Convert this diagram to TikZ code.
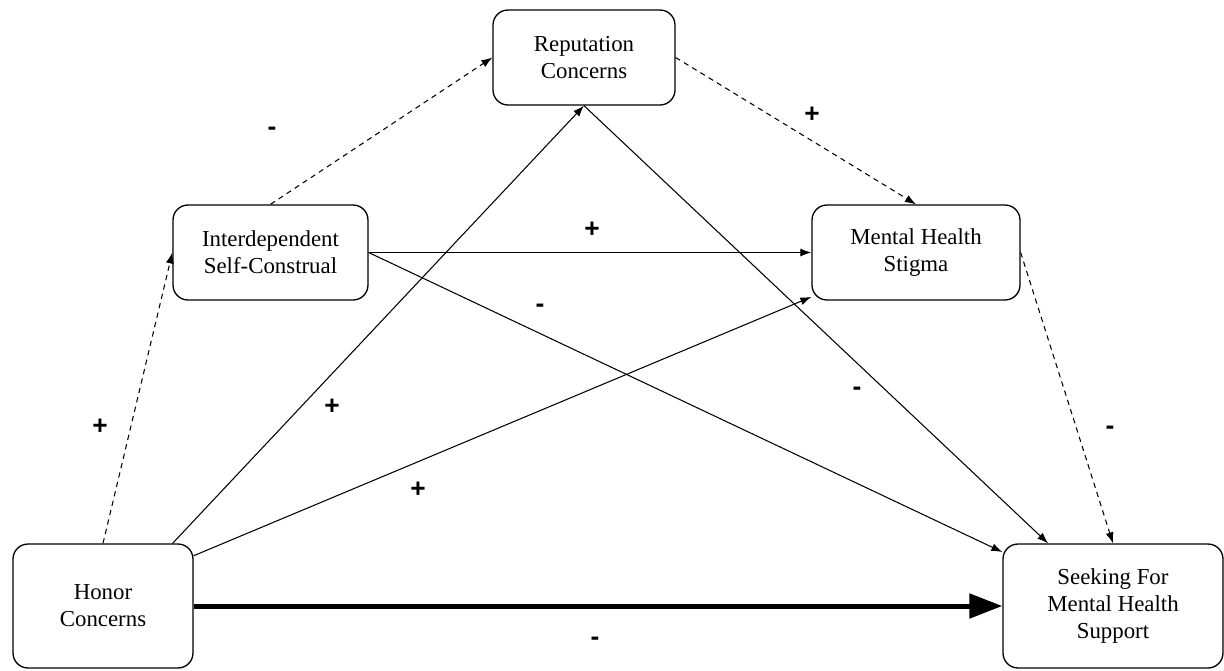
\documentclass[tikz,border=0pt]{standalone}
\usepackage{fontspec}
\setmainfont{Liberation Serif}
\newfontfamily\signfont{Liberation Sans}
\usepackage{tikz}
\usetikzlibrary{arrows.meta}
\newcommand{\pxUnit}{0.02cm}
\usepackage{xcolor}

\begin{document}
\begin{tikzpicture}[x=\pxUnit,y=-\pxUnit,
  box/.style={draw,rounded corners=0.3cm,line width=0.75pt,align=center,
    font=\fontsize{13}{15.5}\selectfont,inner sep=0pt},
  path/.style={line width=0.6pt,-{Latex[length=2.2mm,width=1.6mm]}},
  dpath/.style={path,dash pattern=on 3pt off 2.5pt},
  sign/.style={font=\signfont\bfseries\fontsize{15}{15}\selectfont}]
\useasboundingbox (0,0) rectangle (1224,670);
\node[box,minimum width=3.64cm,minimum height=1.9cm] (rep) at (584,57.5) {Reputation\\Concerns};
\node[box,minimum width=3.9cm,minimum height=1.9cm] (inter) at (270.5,252.5) {Interdependent\\Self-Construal};
\node[box,minimum width=4.16cm,minimum height=1.9cm] (mhs) at (916,252.5) {Mental Health\\Stigma};
\node[box,minimum width=3.6cm,minimum height=2.48cm] (honor) at (103,606) {Honor\\Concerns};
\node[box,minimum width=4.4cm,minimum height=2.48cm] (seek) at (1113,606) {Seeking For\\Mental Health\\Support};
% dashed paths
\draw[dpath] (inter.north) -- (rep.west);
\draw[dpath] (rep.east) -- (mhs.north);
\draw[dpath] (honor.north) -- (inter.west);
\draw[dpath] (mhs.east) -- (seek.north);
% solid paths
\draw[path] (inter.east) -- (mhs.west);
\draw[path] (inter.east) -- (seek.154);
\draw[path] (rep.south) -- (seek.136);
\draw[path] (honor.42) -- (rep.south);
\draw[path] (honor.29) -- (mhs.203);
\draw[line width=0.1cm,-{Triangle[length=0.66cm,width=0.48cm]}] (honor.east) -- (seek.west);
% signs
\node[sign] (s1) at (272,131) {-};
\node[sign] (s2) at (812,115) {+};
\node[sign] (s3) at (100,427) {+};
\node[sign] (s4) at (1110,430) {-};
\node[sign] (s5) at (592,230) {+};
\node[sign] (s6) at (540,308) {-};
\node[sign] (s7) at (857,391) {-};
\node[sign] (s8) at (332,407) {+};
\node[sign] (s9) at (418,490) {+};
\node[sign] (s10) at (595,641) {-};
\end{tikzpicture}
\end{document}
